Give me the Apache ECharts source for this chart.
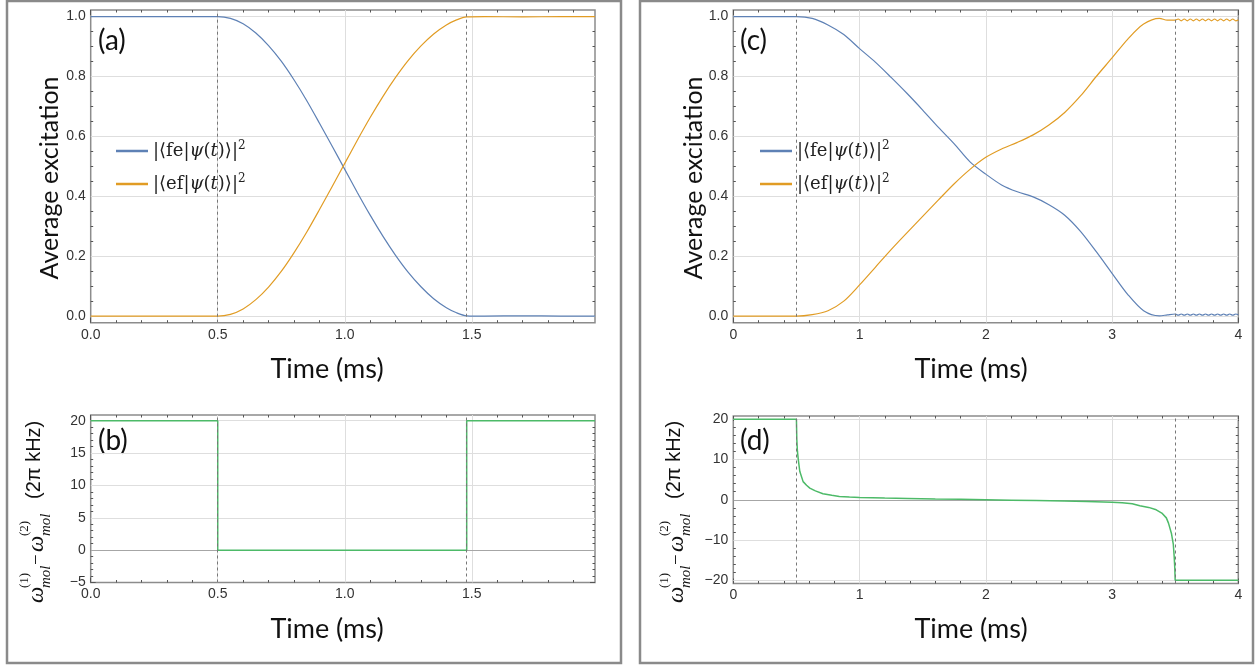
<!DOCTYPE html>
<html><head><meta charset="utf-8">
<script src="https://cdn.jsdelivr.net/npm/echarts@6/dist/echarts.min.js"></script>
<style>html,body{margin:0;padding:0;background:#fff}#c{width:1258px;height:666px}</style>
</head><body><div id="c"></div>
<script>
// ---------------- data ----------------
// Panel (a): populations vs time (ms)
const timeA = [0, 0.1, 0.2, 0.3, 0.4, 0.5, 0.55, 0.6, 0.65, 0.7, 0.75, 0.8, 0.85, 0.9, 0.95, 1.0, 1.05, 1.1, 1.15, 1.2, 1.25, 1.3, 1.35, 1.4, 1.44, 1.48, 1.55, 1.7, 1.85, 1.985];
const feA = [1, 1, 1, 1, 1, 1, 0.994, 0.976, 0.945, 0.903, 0.851, 0.789, 0.72, 0.645, 0.568, 0.49, 0.412, 0.337, 0.267, 0.203, 0.146, 0.098, 0.058, 0.028, 0.011, 0.001, 0, 0.001, 0, 0];
const efA = [0, 0, 0, 0, 0, 0, 0.006, 0.024, 0.055, 0.097, 0.149, 0.211, 0.28, 0.355, 0.432, 0.51, 0.588, 0.663, 0.733, 0.797, 0.854, 0.902, 0.942, 0.972, 0.989, 0.999, 1, 0.999, 1, 1];
// Panel (b): detuning step
const timeB = [0, 0.5, 0.5, 1.48, 1.48, 1.985];
const detuningB = [20, 20, 0, 0, 20, 20];
// Panel (c): populations vs time (ms)
const timeC = [0, 0.125, 0.25, 0.375, 0.5, 0.625, 0.75, 0.875, 1.0, 1.125, 1.25, 1.375, 1.5, 1.625, 1.75, 1.875, 2.0, 2.125, 2.25, 2.375, 2.5, 2.625, 2.75, 2.875, 3.0, 3.125, 3.25, 3.375, 3.4375, 3.5, 3.524, 3.548, 3.572, 3.596, 3.62, 3.644, 3.668, 3.692, 3.716, 3.74, 3.764, 3.788, 3.812, 3.836, 3.86, 3.884, 3.908, 3.932, 3.956, 3.98, 4.0];
const feC = [1, 1, 1, 1, 1, 0.994, 0.972, 0.94, 0.893, 0.848, 0.797, 0.744, 0.688, 0.63, 0.575, 0.515, 0.474, 0.438, 0.415, 0.398, 0.372, 0.337, 0.283, 0.215, 0.143, 0.072, 0.018, 0.001, 0.004, 0.007, 0.003, 0.007, 0.003, 0.007, 0.003, 0.007, 0.003, 0.007, 0.003, 0.007, 0.003, 0.007, 0.003, 0.007, 0.003, 0.007, 0.003, 0.007, 0.003, 0.007, 0.005];
const efC = [0, 0, 0, 0, 0, 0.005, 0.018, 0.05, 0.104, 0.163, 0.222, 0.278, 0.333, 0.388, 0.442, 0.49, 0.53, 0.558, 0.58, 0.605, 0.638, 0.68, 0.735, 0.8, 0.862, 0.925, 0.975, 0.994, 0.988, 0.988, 0.992, 0.986, 0.992, 0.986, 0.992, 0.986, 0.992, 0.986, 0.992, 0.986, 0.992, 0.986, 0.992, 0.986, 0.992, 0.986, 0.992, 0.986, 0.992, 0.986, 0.989];
// Panel (d): detuning sweep
const timeD = [0, 0.5, 0.503, 0.508, 0.515, 0.527, 0.553, 0.58, 0.606, 0.65, 0.71, 0.78, 0.84, 0.92, 1.0, 1.2, 1.38, 1.6, 1.8, 2.0, 2.2, 2.4, 2.62, 2.8, 3.0, 3.08, 3.16, 3.22, 3.29, 3.35, 3.394, 3.43, 3.447, 3.47, 3.485, 3.492, 3.497, 3.5, 4.0];
const detuningD = [20, 20, 15, 12, 9.9, 7.0, 4.5, 3.6, 2.9, 2.2, 1.5, 1.1, 0.82, 0.68, 0.58, 0.43, 0.33, 0.2, 0.1, 0, -0.1, -0.2, -0.33, -0.43, -0.6, -0.75, -1.0, -1.5, -1.9, -2.5, -3.3, -4.5, -5.8, -8.3, -11, -14, -17, -20, -20];
// switching times (dashed markers)
const switchA = [0.5, 1.48];
const switchC = [0.5, 3.5];
// ticks
const xTicksA = [0, 0.5, 1.0, 1.5];
const xMinorA = [0.1, 0.2, 0.3, 0.4, 0.6, 0.7, 0.8, 0.9, 1.1, 1.2, 1.3, 1.4, 1.6, 1.7, 1.8, 1.9];
const xTicksC = [0, 1, 2, 3, 4];
const xMinorC = [0.2, 0.4, 0.6, 0.8, 1.2, 1.4, 1.6, 1.8, 2.2, 2.4, 2.6, 2.8, 3.2, 3.4, 3.6, 3.8];
const yTicksExc = [0, 0.2, 0.4, 0.6, 0.8, 1.0];
const yMinorExc = [0.05, 0.1, 0.15, 0.25, 0.3, 0.35, 0.45, 0.5, 0.55, 0.65, 0.7, 0.75, 0.85, 0.9, 0.95];
const yTicksB = [-5, 0, 5, 10, 15, 20];
const yMinorB = [-4, -3, -2, -1, 1, 2, 3, 4, 6, 7, 8, 9, 11, 12, 13, 14, 16, 17, 18, 19];
const yTicksD = [-20, -10, 0, 10, 20];
const yMinorD = [-18, -16, -14, -12, -8, -6, -4, -2, 2, 4, 6, 8, 12, 14, 16, 18];
const seriesNames = ['fe', 'ef'];

// ---------------- styling ----------------
const BLUE = '#5E81B5', ORANGE = '#E19C24', GREEN = '#4DBA68';
const FRAME = '#8c8c8c', TICK = '#555', GRIDC = '#dedede', ZEROC = '#a6a6a6', DASHC = '#777';
const SANS = 'Lato', TSANS = 'Liberation Sans', SERIF = 'Liberation Serif';

function zip(xs, ys) { return xs.map((x, i) => [x, ys[i]]); }
function minus(s) { return s.replace('-', '\u2212'); }

const panels = [
  { left: 90.7, top: 10, width: 504.3, height: 312.7, xr: [0, 1.985], yr: [-0.022, 1.022],
    xt: xTicksA, xm: xMinorA, yt: yTicksExc, ym: yMinorExc, xd: 1, yd: 1 },
  { left: 90.7, top: 415, width: 504.3, height: 167.5, xr: [0, 1.985], yr: [-5, 20.88],
    xt: xTicksA, xm: xMinorA, yt: yTicksB, ym: yMinorB, xd: 1, yd: 0 },
  { left: 733.3, top: 10, width: 505, height: 312.7, xr: [0, 4], yr: [-0.022, 1.022],
    xt: xTicksC, xm: xMinorC, yt: yTicksExc, ym: yMinorExc, xd: 0, yd: 1 },
  { left: 733.3, top: 416, width: 505, height: 167.5, xr: [0, 4], yr: [-20.8, 20.8],
    xt: xTicksC, xm: xMinorC, yt: yTicksD, ym: yMinorD, xd: 0, yd: 0 }
];

function axis(gi, pos, range, values, len, labelDec) {
  const a = {
    type: 'value', gridIndex: gi, position: pos, min: range[0], max: range[1],
    axisLine: { show: false, onZero: false },
    splitLine: { show: false },
    axisTick: { show: true, inside: true, length: len, customValues: values, lineStyle: { color: TICK, width: 1 } },
    axisLabel: { show: false }
  };
  if (labelDec !== undefined) {
    a.axisLabel = { show: true, customValues: values, margin: 5, color: '#333', fontFamily: TSANS, fontSize: 14,
      formatter: v => minus(Number(v).toFixed(labelDec)) };
  }
  return a;
}

const grids = [], xAxes = [], yAxes = [];
panels.forEach((p, gi) => {
  grids.push({ left: p.left, top: p.top, width: p.width, height: p.height, show: true,
    borderColor: FRAME, borderWidth: 1.5, backgroundColor: 'transparent' });
  xAxes.push(axis(gi, 'bottom', p.xr, p.xt, 5, p.xd));
  xAxes.push(axis(gi, 'bottom', p.xr, p.xm, 2.5));
  xAxes.push(axis(gi, 'top', p.xr, p.xt, 5));
  xAxes.push(axis(gi, 'top', p.xr, p.xm, 2.5));
  yAxes.push(axis(gi, 'left', p.yr, p.yt, 5, p.yd));
  yAxes.push(axis(gi, 'left', p.yr, p.ym, 2.5));
  yAxes.push(axis(gi, 'right', p.yr, p.yt, 5));
  yAxes.push(axis(gi, 'right', p.yr, p.ym, 2.5));
});

function inside(vals, r) { return vals.filter(v => v > r[0] && v < r[1]); }
function lines(xs, ys, color, type, z) {
  return { silent: true, symbol: ['none', 'none'], label: { show: false }, animation: false, z: z,
    emphasis: { disabled: true },
    lineStyle: { color: color, width: 1, type: type },
    data: [].concat(xs.map(v => ({ xAxis: v })), ys.map(v => ({ yAxis: v }))) };
}
function gridLines(gi, extraZero) {
  const p = panels[gi];
  const ys = inside(p.yt, p.yr).filter(v => !(extraZero && v === 0));
  return lines(inside(p.xt, p.xr), ys, GRIDC, 'solid', 1);
}
function helper(gi, ml) {
  return { type: 'line', xAxisIndex: gi * 4, yAxisIndex: gi * 4, data: [[panels[gi].xr[0], panels[gi].yr[0]]],
    showSymbol: false, silent: true, lineStyle: { opacity: 0 }, animation: false, markLine: ml };
}
function curve(gi, name, xs, ys, color, w, smooth, ml) {
  const s = { type: 'line', name: name, xAxisIndex: gi * 4, yAxisIndex: gi * 4, data: zip(xs, ys),
    showSymbol: false, smooth: smooth, animation: false, z: 3,
    lineStyle: { color: color, width: w }, itemStyle: { color: color } };
  if (ml) s.markLine = ml;
  return s;
}

const series = [
  // (a)
  helper(0, gridLines(0, false)),
  curve(0, seriesNames[0], timeA, feA, BLUE, 1.2, 0.3),
  curve(0, seriesNames[1], timeA, efA, ORANGE, 1.2, 0.3, lines(switchA, [], DASHC, [3, 3], 5)),
  // (b)
  helper(1, gridLines(1, true)),
  helper(1, lines([], [0], ZEROC, 'solid', 2)),
  curve(1, 'detuning b', timeB, detuningB, GREEN, 1.5, false, lines(switchA, [], DASHC, [3, 3], 5)),
  // (c)
  helper(2, gridLines(2, false)),
  curve(2, seriesNames[0], timeC, feC, BLUE, 1.2, 0.3),
  curve(2, seriesNames[1], timeC, efC, ORANGE, 1.2, 0.3, lines(switchC, [], DASHC, [3, 3], 5)),
  // (d)
  helper(3, gridLines(3, true)),
  helper(3, lines([], [0], ZEROC, 'solid', 2)),
  curve(3, 'detuning d', timeD, detuningD, GREEN, 1.5, false, lines(switchC, [], DASHC, [3, 3], 5))
];

const RICH = {
  s: { fontFamily: 'DejaVu Serif', fontSize: 18, color: '#222', lineHeight: 22 },
  i: { fontFamily: 'DejaVu Serif', fontStyle: 'italic', fontSize: 18, color: '#222', lineHeight: 22 },
  p: { fontFamily: 'DejaVu Serif', fontSize: 12, color: '#222', lineHeight: 12, verticalAlign: 'top' }
};
function stateLabel(name) { return '{s||\u27E8' + name + '|}{i|\u03C8}{s|(}{i|t}{s|)\u27E9|}{p|2}'; }
function legendAt(left) {
  return { data: seriesNames, left: left, top: 140, orient: 'vertical', icon: 'rect', itemWidth: 32, itemHeight: 2.5,
    itemGap: 13, padding: 0, selectedMode: false, formatter: stateLabel, textStyle: { color: '#222', rich: RICH } };
}

function txt(x, y, text, font, align, rot, fill) {
  align = align || 'center';
  return { type: 'text', x: x, y: y, rotation: rot || 0, silent: true,
    style: { text: text, font: font, fill: fill || '#111', align: align, textAlign: align, verticalAlign: 'middle', textVerticalAlign: 'middle' } };
}
function detLabel(x0, y0) {
  const om = 'italic 23px ' + SERIF, sup = '13px ' + SERIF, sub = 'italic 15px ' + SERIF;
  return { type: 'group', x: x0, y: y0, rotation: Math.PI / 2, silent: true, children: [
    txt(0, 0, '\u03C9', om, 'left'),
    txt(15, -12, '(1)', sup, 'left'),
    txt(15, 9, 'mol', sub, 'left'),
    txt(38, 0, '\u2212', '19px ' + SERIF, 'left'),
    txt(51, 0, '\u03C9', om, 'left'),
    txt(67, -12, '(2)', sup, 'left'),
    txt(67, 9, 'mol', sub, 'left'),
    txt(104, -3, '(2\u03C0 kHz)', '20px ' + TSANS, 'left')
  ] };
}

const graphic = [
  { type: 'rect', silent: true, shape: { x: 7, y: 1, width: 614, height: 662 }, style: { fill: 'none', stroke: '#8a8a8a', lineWidth: 2.5 } },
  { type: 'rect', silent: true, shape: { x: 640, y: 1, width: 613, height: 662 }, style: { fill: 'none', stroke: '#8a8a8a', lineWidth: 2.5 } },
  txt(98, 41, '(a)', '28px ' + SANS, 'left'),
  txt(98, 441, '(b)', '28px ' + SANS, 'left'),
  txt(740, 41, '(c)', '28px ' + SANS, 'left'),
  txt(740, 441, '(d)', '28px ' + SANS, 'left'),
  txt(327, 369, 'Time (ms)', '27px ' + SANS),
  txt(327, 629, 'Time (ms)', '27px ' + SANS),
  txt(971, 369, 'Time (ms)', '27px ' + SANS),
  txt(971, 629, 'Time (ms)', '27px ' + SANS),
  txt(50, 178, 'Average excitation', '25px ' + SANS, 'center', Math.PI / 2),
  txt(694, 178, 'Average excitation', '25px ' + SANS, 'center', Math.PI / 2),
  detLabel(37, 603),
  detLabel(677, 603)
];

const chart = echarts.init(document.getElementById('c'), null, { renderer: 'canvas' });
chart.setOption({
  animation: false,
  backgroundColor: '#ffffff',
  grid: grids, xAxis: xAxes, yAxis: yAxes,
  legend: [legendAt(116), legendAt(760)],
  series: series,
  graphic: graphic
});
</script></body></html>
